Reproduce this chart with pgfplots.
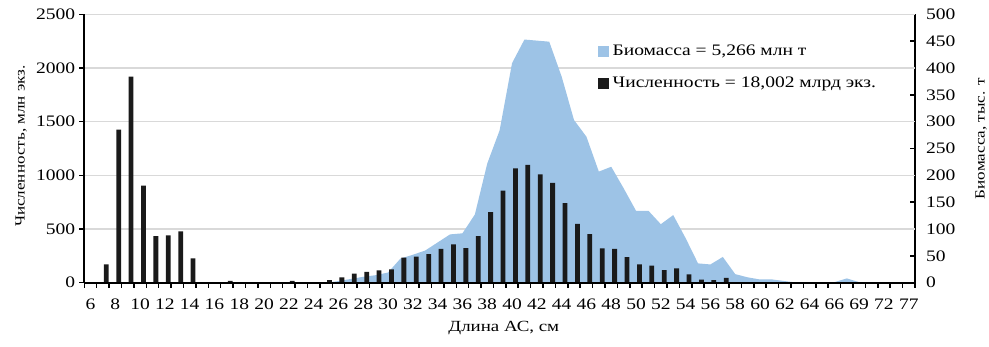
\documentclass[border=0pt]{standalone}
\usepackage{fontspec}
\setmainfont{Liberation Serif}[FakeStretch=1.22]
\usepackage{pgfplots}
\pgfplotsset{compat=1.18}
\definecolor{bioblue}{RGB}{157,195,230}
\definecolor{barblack}{RGB}{26,26,26}
\definecolor{gridgray}{RGB}{217,217,217}
\begin{document}
\begin{tikzpicture}
\path[use as bounding box] (-84.3pt,-63.3pt) rectangle (904.7pt,282.7pt);
\pgfplotsset{common/.style={scale only axis, width=830.7pt, height=268.4pt,
  at={(0pt,0pt)}, anchor=south west, xmin=-0.5, xmax=66.5, ymin=0,
  /pgf/number format/assume math mode=true, /pgf/number format/1000 sep={},
  scaled y ticks=false,
  tick label style={font=\fontsize{16}{19}\selectfont},
  ylabel style={font=\fontsize{14}{17}\selectfont},
  xlabel style={font=\fontsize{15.5}{18}\selectfont},
  axis line style={-, line width=1.8pt, black},
  major tick length=5pt,
  every tick/.style={line width=1.5pt, black}}}
% ---- right axis: biomass (area) ----
\begin{axis}[common, ymax=500, axis x line=none, xtick=\empty,
  axis y line*=right, ytick={0,50,...,500}, tick align=inside,
  yticklabel style={anchor=west, inner sep=0pt, xshift=11pt},
  extra y ticks={100,200,300,400,500}, extra y tick labels={},
  extra y tick style={grid=major, major grid style={gridgray, line width=1.2pt}, major tick length=0pt},
  ylabel={Биомасса, тыс. т},
  ylabel style={at={(axis description cs:1.0795,0.537)}, anchor=center}]
\addplot[fill=bioblue, draw=none] coordinates {
(0,0) (1,0) (2,0) (3,0) (4,0) (5,0) (6,0) (7,0) (8,0) (9,0)
(10,0) (11,0) (12,0) (13,0) (14,0) (15,0) (16,0) (17,0) (18,0) (19,0)
(20,3) (21,7) (22,11) (23,14) (24,19) (25,45) (26,52) (27,60) (28,75) (29,90)
(30,92) (31,127) (32,222) (33,284) (34,409) (35,453) (36,451) (37,449) (38,384) (39,303)
(40,272) (41,207) (42,216) (43,176) (44,134) (45,134) (46,109) (47,126) (48,83) (49,36)
(50,34) (51,48) (52,16) (53,10) (54,6) (55,6) (56,3) (57,0) (58,0) (59,0)
(60,1) (61,8) (62,1) (63,0) (64,0) (65,0) (66,0)} \closedcycle;
\end{axis}
% ---- left axis: abundance (bars) ----
\begin{axis}[common, ymax=2500, axis on top,
  axis x line*=bottom, axis y line*=left, tick align=outside,
  ytick={0,500,...,2500},
  yticklabel style={anchor=east, inner sep=0pt, xshift=-4pt},
  xtick={0,2,...,66},
  xticklabels={6,8,10,12,14,16,18,20,22,24,26,28,30,32,34,36,38,40,42,44,46,48,50,52,54,56,58,60,62,64,66,69,72,77},
  every major x tick/.append style={draw=none},
  minor xtick={-0.5,0.5,...,66.5}, minor tick length=5pt,
  xticklabel style={anchor=north, inner sep=0pt, yshift=-11pt},
  ybar, bar width=4.8pt,
  xlabel={Длина АС, см},
  xlabel style={at={(axis description cs:0.505,-0.169)}, anchor=center},
  ylabel={Численность, млн экз.},
  ylabel style={at={(axis description cs:-0.0762,0.509)}, anchor=center},
  legend style={at={(axis description cs:0.6185,0.802)}, anchor=west, draw=none, fill=none,
    font=\fontsize{16}{19}\selectfont, row sep=16.5pt, inner sep=0pt, /tikz/column sep=3pt,
    cells={anchor=west}, nodes={inner sep=1pt, text height=11pt, text depth=3pt}}]
\addlegendimage{legend image code/.code={\fill[bioblue] (0pt,-5pt) rectangle (10pt,5pt);}}
\addlegendentry{Биомасса = 5,266 млн т}
\addlegendimage{legend image code/.code={\fill[barblack] (0pt,-5pt) rectangle (10pt,5pt);}}
\addlegendentry{Численность = 18,002 млрд экз.}
\addplot[fill=barblack, draw=none, forget plot] coordinates {
(0,0) (1,170) (2,1425) (3,1920) (4,905) (5,435) (6,440) (7,478) (8,227) (9,0)
(10,0) (11,18) (12,0) (13,0) (14,5) (15,5) (16,18) (17,3) (18,3) (19,25)
(20,50) (21,84) (22,100) (23,115) (24,125) (25,233) (26,242) (27,267) (28,314) (29,358)
(30,323) (31,435) (32,657) (33,857) (34,1064) (35,1098) (36,1010) (37,931) (38,742) (39,547)
(40,453) (41,320) (42,314) (43,239) (44,171) (45,158) (46,118) (47,134) (48,78) (49,28)
(50,25) (51,44) (52,0) (53,0) (54,0) (55,0) (56,0) (57,0) (58,0) (59,0)
(60,0) (61,0) (62,0) (63,0) (64,0) (65,0) (66,0)};
\end{axis}
\end{tikzpicture}
\end{document}
